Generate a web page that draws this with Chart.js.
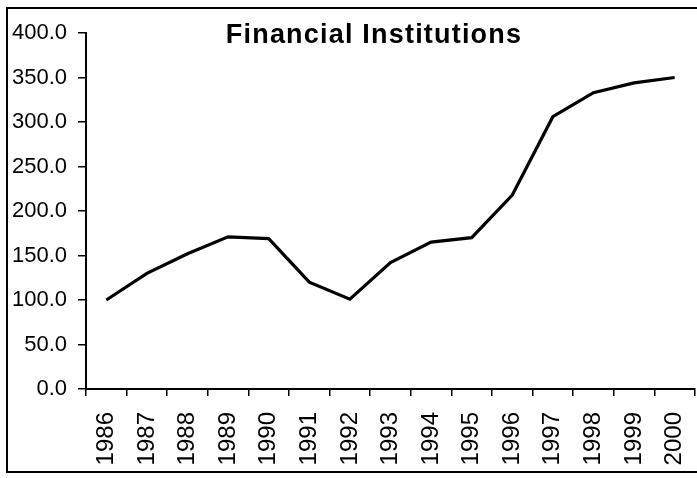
<!DOCTYPE html>
<html>
<head>
<meta charset="utf-8">
<script src="https://cdn.jsdelivr.net/npm/chart.js"></script>
<style>
  html, body { margin: 0; padding: 0; background: #fff; overflow: hidden; }
  #wrap { position: relative; width: 697px; height: 478px; overflow: hidden; }
  #frame { position: absolute; left: 6px; top: 7px; width: 730px; height: 462px;
           border-left: 2px solid #000; border-top: 2px solid #000; border-bottom: 2px solid #000; }
  canvas { position: absolute; left: 0; top: 0; }
</style>
</head>
<body>
<div id="wrap">
  <div id="frame"></div>
  <canvas id="lineChart" width="720" height="478"></canvas>
</div>
<script>
// data
const years = ['1986', '1987', '1988', '1989', '1990', '1991', '1992', '1993',
               '1994', '1995', '1996', '1997', '1998', '1999', '2000'];
const values = [100, 130, 152, 171, 169, 120, 101, 142, 165, 170, 218, 306, 333, 344, 350];
const yTicks = [0, 50, 100, 150, 200, 250, 300, 350, 400];

const chartTitle = 'Financial Institutions';

// title sits inside the plot area, so draw it ourselves
const titlePlugin = {
    id: 'insideTitle',
    afterDraw(chart) {
        const ctx = chart.ctx;
        ctx.save();
        ctx.font = 'bold 27px "Liberation Sans", Arial, sans-serif';
        ctx.letterSpacing = '1.2px';
        ctx.fillStyle = '#000';
        ctx.textAlign = 'center';
        ctx.textBaseline = 'alphabetic';
        ctx.fillText(chartTitle, 374, 43);
        ctx.restore();
    }
};

const ctx = document.getElementById('lineChart').getContext('2d');
new Chart(ctx, {
    type: 'line',
    data: {
        labels: years,
        datasets: [{
            label: chartTitle,
            data: values,
            borderColor: '#000',
            borderWidth: 3.2,
            pointRadius: 0,
            tension: 0,
            fill: false
        }]
    },
    options: {
        responsive: false,
        animation: false,
        layout: {
            padding: { top: 33, right: 16, left: 0, bottom: 0 }
        },
        plugins: {
            legend: { display: false },
            tooltip: { enabled: false }
        },
        scales: {
            x: {
                offset: true,
                afterFit: (s) => { s.height = 89; },
                border: { color: '#000', width: 2 },
                grid: {
                    offset: true,
                    drawOnChartArea: false,
                    drawTicks: true,
                    tickLength: 7,
                    color: '#000',
                    lineWidth: 1.5
                },
                ticks: {
                    color: '#000',
                    minRotation: 90,
                    maxRotation: 90,
                    padding: 16,
                    autoSkip: false,
                    font: { family: '"Liberation Sans", Arial, sans-serif', size: 24 }
                }
            },
            y: {
                min: 0,
                max: 400,
                afterFit: (s) => { s.width = 86; },
                afterBuildTicks: (s) => { s.ticks = yTicks.map(v => ({ value: v })); },
                border: { color: '#000', width: 2 },
                grid: {
                    drawOnChartArea: false,
                    drawTicks: true,
                    tickLength: 8,
                    color: '#000',
                    lineWidth: 1.5
                },
                ticks: {
                    color: '#000',
                    padding: 11,
                    callback: (v) => Number(v).toFixed(1),
                    font: { family: '"Liberation Sans", Arial, sans-serif', size: 22 }
                }
            }
        }
    },
    plugins: [titlePlugin]
});
</script>
</body>
</html>
